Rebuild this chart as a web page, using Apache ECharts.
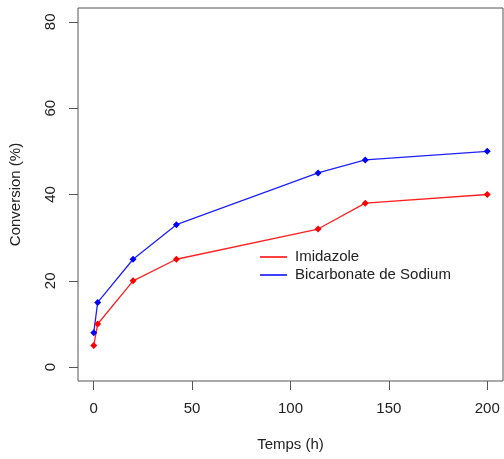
<!DOCTYPE html>
<html>
<head>
<meta charset="utf-8">
<script src="https://cdn.jsdelivr.net/npm/echarts@6/dist/echarts.min.js"></script>
<style>html,body{margin:0;padding:0;background:#fff}#c{width:504px;height:459px}</style>
</head>
<body>
<div id="c"></div>
<script>
// Data
const timeHours = [0, 2, 20, 42, 114, 138, 200];
const imidazole = [5, 10, 20, 25, 32, 38, 40];
const bicarbonate = [8, 15, 25, 33, 45, 48, 50];
const xTicks = [0, 50, 100, 150, 200];
const yTicks = [0, 20, 40, 60, 80];
const seriesNames = ['Imidazole', 'Bicarbonate de Sodium'];

const font = "'Liberation Sans', Arial, Helvetica, sans-serif";
const axisColor = '#555';
const textColor = '#222';

const chart = echarts.init(document.getElementById('c'), null, {renderer: 'canvas'});
chart.setOption({
  animation: false,
  backgroundColor: '#fff',
  grid: {left: 78, right: 1, top: 8, bottom: 78, show: true, borderColor: axisColor, borderWidth: 1, backgroundColor: 'transparent'},
  legend: {
    orient: 'vertical',
    left: 255, top: 243,
    data: seriesNames,
    icon: 'rect',
    itemWidth: 27, itemHeight: 1.5, itemGap: 0,
    textStyle: {fontFamily: font, fontSize: 15, color: textColor, lineHeight: 18, padding: [0, 0, 0, 3]}
  },
  xAxis: {
    type: 'value', min: -8, max: 208,
    name: 'Temps (h)', nameLocation: 'middle', nameGap: 56,
    nameTextStyle: {fontFamily: font, fontSize: 15, color: textColor},
    axisLine: {show: false, onZero: false},
    splitLine: {show: false},
    axisTick: {show: true, inside: false, length: 9, lineStyle: {color: axisColor}, customValues: xTicks},
    axisLabel: {fontFamily: font, fontSize: 15, color: textColor, margin: 20, customValues: xTicks}
  },
  yAxis: {
    type: 'value', min: -3.2, max: 83.2,
    name: 'Conversion (%)', nameLocation: 'middle', nameGap: 55,
    nameTextStyle: {fontFamily: font, fontSize: 15, color: textColor},
    axisLine: {show: false, onZero: false},
    splitLine: {show: false},
    axisTick: {show: true, inside: false, length: 9, lineStyle: {color: axisColor}, customValues: yTicks},
    axisLabel: {fontFamily: font, fontSize: 15, color: textColor, margin: 20, rotate: 90, customValues: yTicks}
  },
  series: [
    {
      name: seriesNames[0], type: 'line',
      data: timeHours.map((t, i) => [t, imidazole[i]]),
      color: '#ff0000',
      lineStyle: {width: 1.3, color: '#ff2020'},
      symbol: 'diamond', symbolSize: 7,
      itemStyle: {color: '#ff0000'}
    },
    {
      name: seriesNames[1], type: 'line',
      data: timeHours.map((t, i) => [t, bicarbonate[i]]),
      color: '#0000ff',
      lineStyle: {width: 1.3, color: '#2020ff'},
      symbol: 'diamond', symbolSize: 7,
      itemStyle: {color: '#0000ff'}
    }
  ]
});
</script>
</body>
</html>
